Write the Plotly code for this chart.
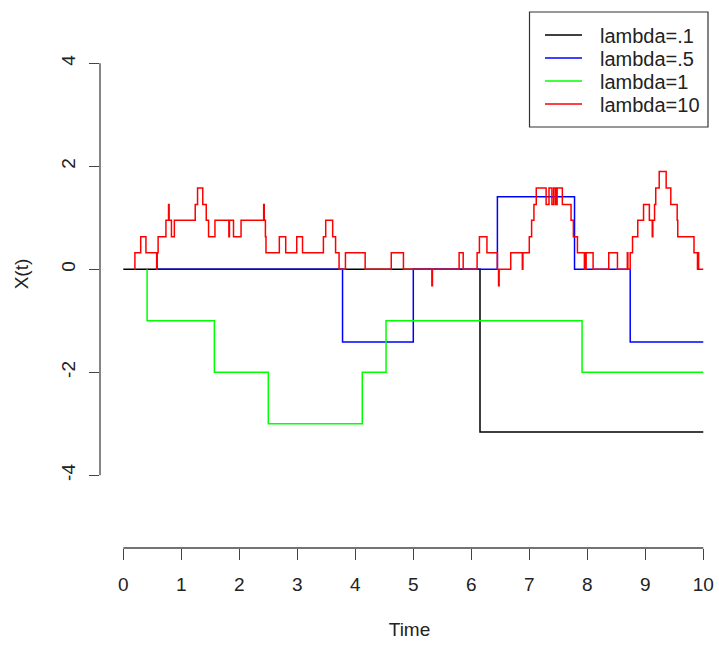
import plotly.graph_objects as go

# ---- data (jump times and path values after each jump) ----
black_t = [0.0, 6.15, 10.0]
black_v = [0.0, -3.16, -3.16]

blue_t = [0.575, 3.78, 5.00, 6.45, 7.78, 8.74, 10.0]
blue_v = [0.0, -1.41, 0.0, 1.41, 0.0, -1.41, -1.41]

green_t = [0.41, 0.41, 1.57, 2.50, 4.12, 4.53, 7.91, 10.0]
green_v = [0.0, -1.0, -2.0, -3.0, -2.0, -1.0, -2.0, -2.0]

red_t = [0.19, 0.20, 0.30, 0.39, 0.575, 0.585, 0.60, 0.735, 0.78, 0.79,
         0.83, 0.88, 1.24, 1.28, 1.37, 1.43, 1.47, 1.58, 1.82, 1.83,
         1.90, 2.03, 2.42, 2.43, 2.45, 2.46, 2.69, 2.80, 2.99, 3.09,
         3.45, 3.49, 3.61, 3.66, 3.72, 3.83, 4.17, 4.62, 4.83, 5.32,
         5.33, 5.79, 5.86, 6.10, 6.14, 6.27, 6.45, 6.47, 6.48, 6.68,
         6.88, 6.89, 7.00, 7.04, 7.08, 7.12, 7.29, 7.34, 7.39, 7.42,
         7.45, 7.46, 7.47, 7.48, 7.57, 7.72, 7.76, 7.83, 7.95, 7.96,
         7.97, 7.98, 8.10, 8.37, 8.52, 8.69, 8.70, 8.74, 8.78, 8.87,
         8.97, 9.07, 9.12, 9.13, 9.16, 9.18, 9.24, 9.36, 9.44, 9.55,
         9.56, 9.84, 9.90, 9.91, 9.92, 10.0]
red_v = [0.0, 0.32, 0.63, 0.32, 0.0, 0.32, 0.63, 0.95, 1.26, 0.95,
         0.63, 0.95, 1.26, 1.58, 1.26, 0.95, 0.63, 0.95, 0.63, 0.95,
         0.63, 0.95, 1.26, 0.95, 0.63, 0.32, 0.63, 0.32, 0.63, 0.32,
         0.63, 0.95, 0.63, 0.32, 0.0, 0.32, 0.0, 0.32, 0.0, -0.32,
         0.0, 0.32, 0.0, 0.32, 0.63, 0.32, 0.0, -0.32, 0.0, 0.32,
         0.0, 0.32, 0.63, 0.95, 1.26, 1.58, 1.26, 1.58, 1.26, 1.58,
         1.26, 1.58, 1.26, 1.58, 1.26, 0.95, 0.63, 0.32, 0.0, 0.32,
         0.0, 0.32, 0.0, 0.32, 0.0, 0.32, 0.0, 0.32, 0.63, 0.95,
         1.26, 0.95, 0.63, 0.95, 1.26, 1.58, 1.9, 1.58, 1.26, 0.95,
         0.63, 0.32, 0.0, 0.32, 0.0, 0.0]

names = ["lambda=.1", "lambda=.5", "lambda=1", "lambda=10"]
colors = ["#000000", "#0000FF", "#00FF00", "#FF0000"]

x_ticks = list(range(0, 11))
x_labels = [str(v) for v in x_ticks]
y_ticks = [-4, -2, 0, 2, 4]
y_labels = ["-4", "-2", "0", "2", "4"]

FONT = "Liberation Sans, Arial, sans-serif"
AX = "#444444"
W, H = 719, 648
ML, MR, MT, MB = 100, 0, 0, 100
PW, PH = W - ML - MR, H - MT - MB


def px(x):
    return (x - ML) / PW


def py(y):
    return 1 - (y - MT) / PH


fig = go.Figure()
for t, v, n, c in zip([black_t, blue_t, green_t, red_t],
                      [black_v, blue_v, green_v, red_v], names, colors):
    fig.add_trace(go.Scatter(x=t, y=v, mode="lines", name=n, showlegend=False,
                             line=dict(color=c, width=1.5, shape="hv")))

# legend box drawn like R's legend()
shapes = [
    dict(type="line", xref="paper", yref="y", x0=0, x1=0,
         y0=y_ticks[0], y1=y_ticks[-1], line=dict(color=AX, width=1.3)),
    dict(type="line", xref="x", yref="paper", x0=x_ticks[0], x1=x_ticks[-1],
         y0=0, y1=0, line=dict(color=AX, width=1.3)),
    dict(type="rect", xref="paper", yref="paper", x0=px(529.5), x1=px(708),
         y0=py(127), y1=py(12), line=dict(color="#333333", width=1.2),
         fillcolor="white", layer="above"),
]
annotations = []
row_y = [35, 58, 81, 104]
for n, c, ry in zip(names, colors, row_y):
    shapes.append(dict(type="line", xref="paper", yref="paper",
                       x0=px(545), x1=px(582), y0=py(ry), y1=py(ry),
                       line=dict(color=c, width=1.5), layer="above"))
    annotations.append(dict(text=n, xref="paper", yref="paper",
                            x=px(598), y=py(ry + 1), xanchor="left",
                            yanchor="middle", showarrow=False,
                            font=dict(size=20, color="#222222")))

fig.update_layout(
    width=W, height=H,
    margin=dict(l=ML, r=MR, t=MT, b=MB),
    paper_bgcolor="white", plot_bgcolor="white",
    font=dict(family=FONT, size=19, color="#222222"),
    showlegend=False,
    xaxis=dict(range=[-0.402, 10.271], showgrid=False, zeroline=False,
               showline=False, tickmode="array", tickvals=x_ticks,
               ticktext=x_labels,
               ticks="outside", ticklen=11, tickwidth=1.3, tickcolor=AX,
               ticklabelstandoff=8,
               title=dict(text="Time", standoff=28, font=dict(size=19))),
    yaxis=dict(range=[-5.412, 5.229], showgrid=False, zeroline=False,
               showline=False, tickmode="array", tickvals=y_ticks,
               ticktext=y_labels,
               ticks="outside", ticklen=10, tickwidth=1.3, tickcolor=AX,
               tickangle=-90, ticklabelstandoff=6,
               title=dict(text="X(t)", standoff=24, font=dict(size=19))),
    shapes=shapes,
    annotations=annotations,
)

fig.write_html("out.html")
